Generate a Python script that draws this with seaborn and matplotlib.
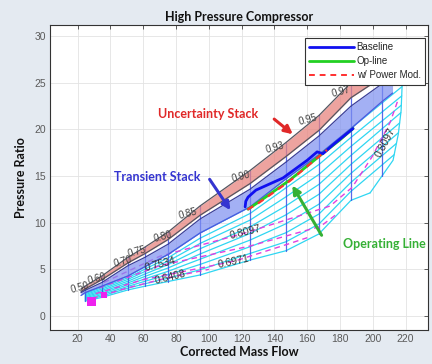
import numpy as np
import pandas as pd
import matplotlib
matplotlib.use("Agg")
import matplotlib.pyplot as plt
from matplotlib.lines import Line2D
import seaborn as sns

# speed lines of the map
speeds = [0.50, 0.60, 0.70, 0.75, 0.80, 0.85, 0.90, 0.93, 0.95, 0.97, 1.00]
speed_flow = [24.5, 34.8, 50.7, 61.1, 75.1, 94.6, 125.1, 147.0, 167.1, 186.6, 205.6]
speed_top = [3.2, 4.3, 6.3, 7.4, 9.0, 11.8, 15.6, 18.6, 21.5, 25.0, 27.2]
speed_bot = [1.6, 2.0, 2.8, 3.2, 3.7, 4.4, 6.0, 7.0, 8.8, 12.4, 15.0]
speed_text = ["0.50", "0.60", "0.70", "0.75", "0.80", "0.85", "0.90", "0.93", "0.95", "0.97"]
speed_lx = [21.4, 31.8, 47.6, 56.2, 72.0, 87.3, 119.7, 140.4, 160.5, 180.6]
speed_ly = [3.0, 4.0, 5.8, 6.9, 8.5, 11.0, 14.9, 18.0, 21.0, 24.1]

# beta lines (PR at each of the first 10 speed lines, then end on choke)
beta_pr = [
    [2.50, 3.20, 4.30, 5.30, 6.60, 8.90, 11.70, 14.70, 17.30, 20.10],
    [2.39, 3.05, 4.11, 5.04, 6.24, 8.34, 10.99, 13.74, 16.24, 19.14],
    [2.28, 2.90, 3.93, 4.78, 5.88, 7.78, 10.28, 12.78, 15.18, 18.18],
    [2.16, 2.75, 3.74, 4.51, 5.51, 7.21, 9.56, 11.81, 14.11, 17.21],
    [2.05, 2.60, 3.55, 4.25, 5.15, 6.65, 8.85, 10.85, 13.05, 16.25],
    [1.94, 2.45, 3.36, 3.99, 4.79, 6.09, 8.14, 9.89, 11.99, 15.29],
    [1.83, 2.30, 3.18, 3.73, 4.43, 5.53, 7.43, 8.93, 10.93, 14.33],
    [1.71, 2.15, 2.99, 3.46, 4.06, 4.96, 6.71, 7.96, 9.86, 13.36],
    [1.60, 2.00, 2.80, 3.20, 3.70, 4.40, 6.00, 7.00, 8.80, 12.40],
]
beta_end_x = [217.8, 217.6, 217.35, 217.05, 216.3, 215.6, 214.35, 213.0, 198.3]
beta_end_y = [24.6, 23.6, 22.6, 21.8, 20.7, 19.65, 18.5, 17.3, 13.2]
choke_x = [198.3, 212.3, 215.5, 217.2, 217.8]
choke_y = [13.2, 16.7, 19.5, 22.0, 24.6]

# uncertainty / transient stacks
band_x = [22, 24.5, 34.8, 50.7, 61.1, 75.1, 94.6, 125.1, 147.0, 167.1, 186.6, 205.6, 212.0]
unc_top = [2.9, 3.2, 4.3, 6.3, 7.4, 9.0, 11.8, 15.6, 18.6, 21.5, 25.0, 27.2, 27.8]
unc_bot = [2.6, 2.9, 3.9, 5.7, 6.7, 8.2, 10.8, 14.2, 17.1, 19.9, 23.4, 25.6, 26.2]
trn_top = [2.5, 2.75, 3.6, 5.4, 6.3, 7.7, 10.4, 13.6, 16.5, 19.3, 22.5, 24.9, 25.4]
trn_bot = [2.2, 2.5, 3.2, 4.3, 5.3, 6.6, 8.9, 11.7, 14.7, 17.3, 20.1, 23.0, 23.9]

# efficiency contours
eff_levels = ["0.8097", "0.7534", "0.6971", "0.6408"]
eff_x = [
    [36, 70, 122, 174, 187.4, 199.6, 210.6, 215.4],
    [33, 70, 125, 168, 177],
    [31, 60, 88, 116, 148, 160],
    [29, 50, 76, 100],
]
eff_y = [
    [3.6, 6.4, 8.9, 11.8, 13.8, 17.1, 20.8, 23.2],
    [3.0, 5.4, 7.5, 9.6, 10.8],
    [2.4, 3.9, 4.9, 5.9, 7.7, 8.4],
    [1.9, 3.0, 4.15, 5.0],
]
eff_lab_x = [122.1, 70.5, 114.8, 76.3, 207.5]
eff_lab_y = [9.0, 5.6, 5.8, 4.2, 18.6]
eff_lab_text = ["0.8097", "0.7534", "0.6971", "0.6408", "0.8097"]
eff_lab_rot = [14, 14, 12, 14, 62]
mark_x = [28.5, 36.0]
mark_y = [1.55, 2.3]

# transient runs
base_x = [122.1, 122.5, 123.9, 128.7, 145.2, 160.0, 166.0, 169.5, 176.0, 187.9]
base_y = [11.7, 12.3, 12.75, 13.5, 14.8, 16.7, 17.6, 17.4, 18.4, 20.1]
op_x = [123.9, 131.0, 149.5, 167.1, 180.0, 187.9]
op_y = [11.45, 12.3, 14.6, 17.1, 18.9, 20.1]
pm_x = [123.5, 131.0, 149.5, 165.0, 172.0]
pm_y = [11.4, 12.2, 14.5, 16.8, 17.8]

sns.set_theme(style="whitegrid")
plt.rcParams["font.family"] = ["Liberation Sans", "DejaVu Sans"]

fig, ax = plt.subplots(figsize=(4.32, 3.64), dpi=100)
fig.patch.set_facecolor("#e4eaf1")
fig.subplots_adjust(left=0.1157, right=0.9907, bottom=0.0934, top=0.9313)
ax.set_facecolor("white")

# cyan beta lines
rows = []
for k, prs in enumerate(beta_pr):
    for f, p in zip(speed_flow[:10], prs):
        rows.append((k, f, p))
    rows.append((k, beta_end_x[k], beta_end_y[k]))
df_beta = pd.DataFrame(rows, columns=["beta", "flow", "pr"])
sns.lineplot(data=df_beta, x="flow", y="pr", units="beta", estimator=None, sort=False,
             color="#2fd6f2", lw=0.9, ax=ax, legend=False, zorder=2)
sns.lineplot(x=choke_x, y=choke_y, sort=False, color="#2fd6f2", lw=0.9, ax=ax, zorder=2)

# magenta efficiency contours
rows = []
for lev, xs, ys in zip(eff_levels, eff_x, eff_y):
    for a, b in zip(xs, ys):
        rows.append((lev, a, b))
df_eff = pd.DataFrame(rows, columns=["eff", "flow", "pr"])
sns.lineplot(data=df_eff, x="flow", y="pr", units="eff", estimator=None, sort=False,
             color="#e040e0", lw=1.0, linestyle=(0, (4, 3)), ax=ax, legend=False, zorder=3)
sns.scatterplot(x=mark_x, y=mark_y, marker="s", s=[45, 18], color="#ee22ee",
                edgecolor="none", ax=ax, zorder=3, legend=False)

# speed lines
rows = []
for s, f, lo, hi in zip(speeds, speed_flow, speed_bot, speed_top):
    rows += [(s, f, lo), (s, f, hi)]
df_spd = pd.DataFrame(rows, columns=["speed", "flow", "pr"])
sns.lineplot(data=df_spd, x="flow", y="pr", units="speed", estimator=None, sort=False,
             color="#3b4fe6", lw=0.9, alpha=0.85, ax=ax, legend=False, zorder=2.5)

# stacks
ax.fill_between(band_x, unc_bot, unc_top, color="#e8857f", alpha=0.75, lw=0, zorder=3)
ax.fill_between(band_x, trn_bot, trn_top, color="#7d8ff0", alpha=0.7, lw=0, zorder=3)
for ys, c in [(unc_top, "#555560"), (unc_bot, "#555560"), (trn_top, "#3a3f99"), (trn_bot, "#4a5ae0")]:
    sns.lineplot(x=band_x, y=ys, sort=False, color=c, lw=0.9, ax=ax, zorder=4)

# baseline, op-line, power mod
sns.lineplot(x=op_x, y=op_y, sort=False, color="#22d022", lw=2.0, ax=ax, zorder=5)
sns.lineplot(x=pm_x, y=pm_y, sort=False, color="#ff3030", lw=1.6, linestyle=(0, (3, 2.5)),
             ax=ax, zorder=5.5)
sns.lineplot(x=base_x, y=base_y, sort=False, color="#1010f0", lw=2.0, ax=ax, zorder=5.2)

# labels on map
for t, x, y in zip(speed_text, speed_lx, speed_ly):
    ax.text(x, y, t, fontsize=7, color="#404040", ha="center", va="center",
            rotation=15, zorder=6)
for t, x, y, r in zip(eff_lab_text, eff_lab_x, eff_lab_y, eff_lab_rot):
    ax.text(x, y, t, fontsize=7.5, color="#333333", ha="center", va="center",
            rotation=r, zorder=6)

arrow_kw = dict(arrowstyle="-|>", lw=2.2, mutation_scale=12)
ax.text(99.5, 21.65, "Uncertainty Stack", family="Lato", fontweight="bold", fontsize=9,
        color="#e02828", ha="center", va="center", zorder=7)
ax.annotate("", xy=(152.5, 19.3), xytext=(138.5, 21.3), zorder=7,
            arrowprops=dict(color="#e02828", **arrow_kw))
ax.text(68.4, 14.9, "Transient Stack", family="Lato", fontweight="bold", fontsize=9,
        color="#3535d0", ha="center", va="center", zorder=7)
ax.annotate("", xy=(114.1, 11.1), xytext=(99.5, 14.9), zorder=7,
            arrowprops=dict(color="#3535d0", **arrow_kw))
ax.text(181.7, 7.7, "Operating Line", family="Lato", fontweight="bold", fontsize=9,
        color="#35b035", ha="left", va="center", zorder=7, clip_on=False)
ax.annotate("", xy=(150.0, 14.25), xytext=(169.6, 8.4), zorder=7,
            arrowprops=dict(color="#35b035", **arrow_kw))

# axes styling
ax.set_xlim(3.1, 233.6)
ax.set_ylim(-1.5, 31.2)
ax.set_xticks(range(20, 221, 20))
ax.set_yticks(range(0, 31, 5))
ax.grid(True, color="#e3e3e3", lw=0.6)
ax.tick_params(direction="in", length=3, top=True, right=True, labelsize=7.5,
               labelcolor="#5a5a5a", color="#444444", width=0.6, pad=3)
for sp in ax.spines.values():
    sp.set_color("#333333")
    sp.set_linewidth(0.8)
ax.set_title("High Pressure Compressor", family="Lato", fontweight="bold", fontsize=9,
             pad=3, color="#111111")
ax.set_xlabel("Corrected Mass Flow", family="Lato", fontweight="bold", fontsize=9,
              labelpad=1, color="#111111")
ax.set_ylabel("Pressure Ratio", family="Lato", fontweight="bold", fontsize=9,
              labelpad=5, color="#111111")

handles = [
    Line2D([], [], color="#1010f0", lw=2.0),
    Line2D([], [], color="#22d022", lw=2.0),
    Line2D([], [], color="#ff3030", lw=1.4, linestyle=(0, (3, 2.5))),
]
leg = ax.legend(handles, ["Baseline", "Op-line", "w/ Power Mod."], loc="upper right",
                bbox_to_anchor=(0.992, 0.957), fontsize=7, handlelength=4.6,
                fancybox=False, framealpha=1, edgecolor="#333333", borderpad=0.45,
                labelspacing=0.4, handletextpad=0.3, borderaxespad=0)
leg.get_frame().set_linewidth(0.8)
leg.set_zorder(10)

fig.savefig("out.png", dpi=100, facecolor=fig.get_facecolor())
